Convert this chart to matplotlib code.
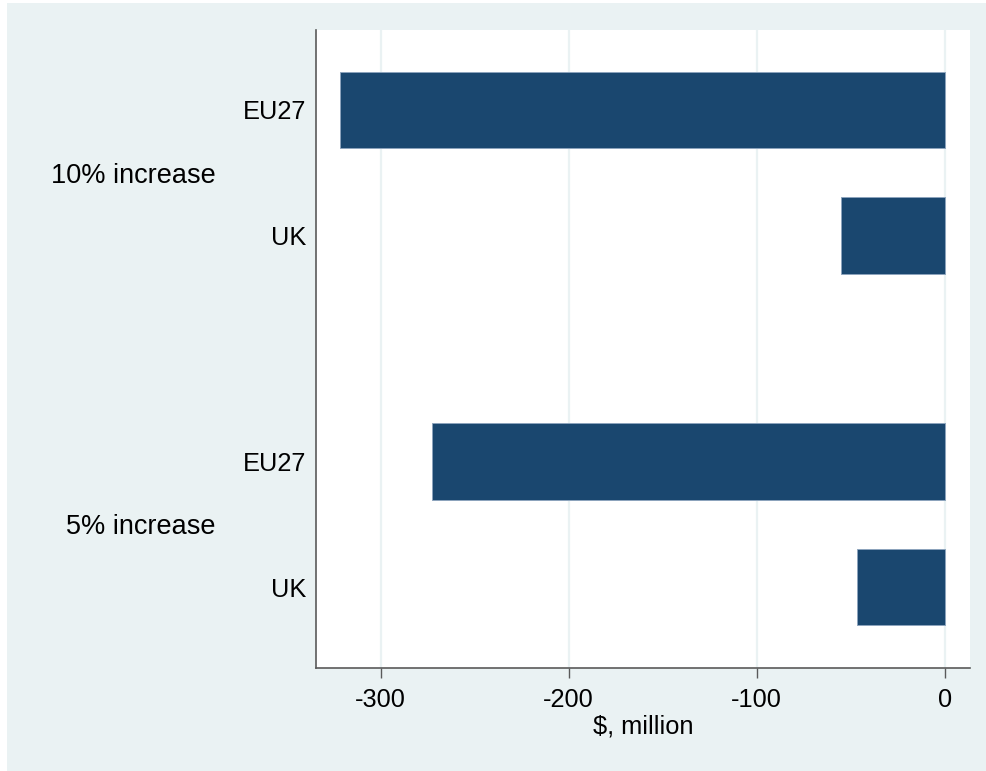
import matplotlib
matplotlib.use("Agg")
import matplotlib.pyplot as plt
from matplotlib.patches import Rectangle
from matplotlib.transforms import blended_transform_factory, ScaledTranslation

plt.rcParams["font.family"] = ["Liberation Sans", "DejaVu Sans"]

# Data: change in value ($ million) by scenario and country
scenarios = ["10% increase", "5% increase"]
countries = ["EU27", "UK"]
values_10pct = [-321.5, -55.2]
values_5pct = [-272.9, -46.9]
xticks = [-300, -200, -100, 0]
xlabel = "$, million"

BAR_COLOR = "#1a476f"
BG_COLOR = "#eaf2f3"
AXIS_COLOR = "#5a5a5a"
FS = 18.3
FS_GROUP = 19.5

W, H = 986, 771
fig = plt.figure(figsize=(W / 100, H / 100), dpi=100, facecolor="white")
fig.patches.append(Rectangle((7 / W, 0), 1 - 7 / W, 1 - 3 / H,
                             transform=fig.transFigure, facecolor=BG_COLOR,
                             edgecolor="none", zorder=-10))

ax = fig.add_axes([316 / W, (H - 668) / H, (970 - 316) / W, (668 - 30) / H])
ax.set_facecolor("white")

# bar positions: unit spacing within a group, wider gap between groups
group_gap = 1.8
bar_h = 0.606
positions, labels, values, group_centers = [], [], [], []
for g, vals in enumerate([values_10pct, values_5pct]):
    base = g * (len(countries) - 1 + group_gap)
    pos = [base + i for i in range(len(countries))]
    positions += pos
    labels += countries
    values += vals
    group_centers.append(sum(pos) / len(pos))

ax.barh(positions, values, height=bar_h, color=BAR_COLOR,
        edgecolor="#8da4bd", linewidth=0.7, zorder=3)

ax.set_ylim(positions[-1] + 0.645, positions[0] - 0.637)
ax.set_xlim(-334.4, 13.4)

ax.set_xticks(xticks)
ax.set_xticklabels([str(t) for t in xticks])
ax.set_yticks(positions)
ax.set_yticklabels(labels)
ax.tick_params(axis="y", length=0, pad=7, labelsize=FS)
ax.tick_params(axis="x", length=7.2, width=1.0, color=AXIS_COLOR, pad=7,
               labelsize=FS)

ax.grid(axis="x", color=BG_COLOR, linewidth=1.6, zorder=0)
ax.set_axisbelow(True)

for side in ("top", "right"):
    ax.spines[side].set_visible(False)
for side in ("left", "bottom"):
    ax.spines[side].set_color(AXIS_COLOR)
    ax.spines[side].set_linewidth(1.2)

ax.set_xlabel(xlabel, fontsize=FS, labelpad=2)

trans = blended_transform_factory(ax.transAxes, ax.transData) + \
    ScaledTranslation(0, -3 / 100, fig.dpi_scale_trans)
x_group = (216 - 316) / (970 - 316)
for name, yc in zip(scenarios, group_centers):
    ax.text(x_group, yc, name, transform=trans, ha="right", va="center",
            fontsize=FS_GROUP)

fig.savefig("out.png", dpi=100, facecolor=fig.get_facecolor())
